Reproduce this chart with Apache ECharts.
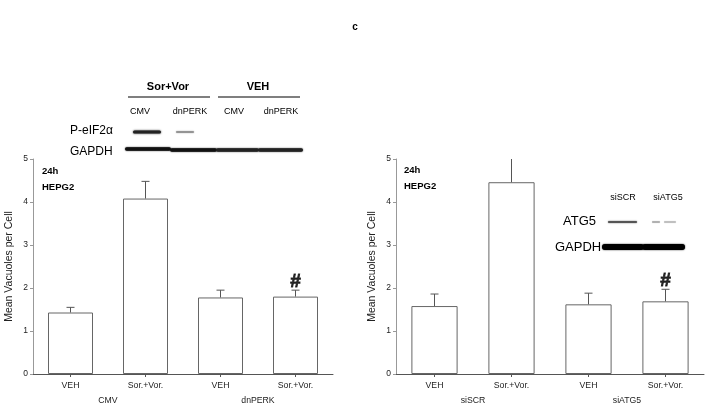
<!DOCTYPE html>
<html><head><meta charset="utf-8">
<script src="https://cdn.jsdelivr.net/npm/echarts@6/dist/echarts.min.js"></script>
<style>html,body{margin:0;padding:0;background:#fff}#c{width:708px;height:406px}</style>
</head><body><div id="c"></div>
<script>
const categories = ['VEH','Sor.+Vor.','VEH','Sor.+Vor.'];
const groupsLeft = ['CMV','dnPERK'];
const groupsRight = ['siSCR','siATG5'];
const leftMeans = [1.43, 4.08, 1.78, 1.80];
const leftErrTop = [1.55, 4.48, 1.95, 1.95];
const rightMeans = [1.58, 4.46, 1.62, 1.69];
const rightErrTop = [1.86, 5.3, 1.88, 1.97];
const yTicks = [0,1,2,3,4,5];
const hashIndex = 3;

const FONT = 'Liberation Sans, Arial, sans-serif';
const AX = '#555';

function yAxisCfg(gi){
  return {type:'value', gridIndex:gi, min:yTicks[0], max:yTicks[yTicks.length-1], interval:1,
    name:'Mean Vacuoles per Cell', nameLocation:'middle', nameGap:18,
    nameTextStyle:{fontFamily:FONT,fontSize:10.5,color:'#222'},
    axisLine:{show:true,lineStyle:{color:'#999',width:1}},
    axisTick:{show:true,length:3,lineStyle:{color:'#999'}},
    axisLabel:{fontFamily:FONT,fontSize:8.5,color:'#222',margin:5},
    splitLine:{show:false}};
}
function xAxisCfg(gi, data){
  return {type:'category', gridIndex:gi, data:data, boundaryGap:true,
    axisLine:{lineStyle:{color:AX,width:1}},
    axisTick:{show:true,alignWithLabel:true,length:3,lineStyle:{color:AX}},
    axisLabel:{fontFamily:FONT,fontSize:8.7,color:'#222',margin:7}};
}
function groupAxisCfg(gi, data){
  return {type:'category', gridIndex:gi, data:data, position:'bottom', offset:15,
    axisLine:{show:false}, axisTick:{show:false},
    axisLabel:{fontFamily:FONT,fontSize:8.7,color:'#222',margin:7}};
}
function errSeries(xi, yi, tops, means){
  return {type:'custom', xAxisIndex:xi, yAxisIndex:yi, z:3,
    data: tops.map((t,i)=>[i, means[i], t]),
    renderItem:function(params, api){
      const i = api.value(0), m = api.value(1), t = api.value(2);
      const ymax = yTicks[yTicks.length-1];
      const top = Math.min(t, ymax);
      const p0 = api.coord([i, m]);
      const p1 = api.coord([i, top]);
      const children = [{type:'line', shape:{x1:p0[0],y1:p0[1],x2:p1[0],y2:p1[1]}, style:{stroke:'#555',lineWidth:1}}];
      if (t <= ymax) children.push({type:'line', shape:{x1:p1[0]-4,y1:p1[1],x2:p1[0]+4,y2:p1[1]}, style:{stroke:'#555',lineWidth:1}});
      return {type:'group', children:children};
    }};
}
function hashSeries(xi, yi, tops){
  return {type:'scatter', xAxisIndex:xi, yAxisIndex:yi, symbolSize:0, z:4,
    data:[[hashIndex, tops[hashIndex]]],
    label:{show:true, formatter:'#', position:'top', distance:-1, fontFamily:FONT, fontWeight:'bold', fontSize:19, color:'#000', textBorderColor:'#000', textBorderWidth:0.8}};
}
function barSeries(xi, yi, vals){
  return {type:'bar', xAxisIndex:xi, yAxisIndex:yi, data:vals, barWidth:'60%',
    itemStyle:{color:'#fff', borderColor:'#666', borderWidth:1}};
}

function txt(x,y,s,size,bold,align){
  return {type:'text', x:x, y:y, style:{text:s, fontFamily:FONT, fontSize:size, fontWeight:bold?'bold':'normal', fill:'#000', align:align||'left', verticalAlign:'middle'}};
}
function band(x,y,w,h,col,blur){
  return {type:'rect', shape:{x:x,y:y-h/2,width:w,height:h,r:h/2}, style:{fill:col, shadowBlur:blur||2, shadowColor:col}};
}

const graphics = [
  txt(355,27,'c',10,true,'center'),
  txt(42,171,'24h',9.5,true), txt(42,187,'HEPG2',9.5,true),
  txt(404,170,'24h',9.5,true), txt(404,186,'HEPG2',9.5,true),
  // left blot
  txt(168,87,'Sor+Vor',11,true,'center'), txt(258,87,'VEH',11,true,'center'),
  {type:'line', shape:{x1:128,y1:97,x2:210,y2:97}, style:{stroke:'#000',lineWidth:1.2}},
  {type:'line', shape:{x1:218,y1:97,x2:300,y2:97}, style:{stroke:'#000',lineWidth:1.2}},
  txt(140,112,'CMV',9,false,'center'), txt(190,112,'dnPERK',9,false,'center'),
  txt(234,112,'CMV',9,false,'center'), txt(281,112,'dnPERK',9,false,'center'),
  txt(70,131,'P-eIF2\u03b1',12,false), txt(70,152,'GAPDH',12,false),
  band(133,132,28,3,'#222',2), band(176,132,18,1.5,'#888',1.5),
  band(125,149,46,3.5,'#111',1.5), band(170,150,47,3.5,'#111',1.5),
  band(216,150,43,3.5,'#222',1.5), band(258,150,45,3.5,'#222',1.5),
  // right blot
  txt(623,198,'siSCR',9,false,'center'), txt(668,198,'siATG5',9,false,'center'),
  txt(563,221,'ATG5',13,false), txt(555,247,'GAPDH',13,false),
  band(608,222,29,2,'#555',1.5), band(652,222,8,1.5,'#aaa',1), band(664,222,12,1.5,'#bbb',1),
  band(602,247,42,6,'#000',1.5), band(642,247,43,6,'#000',1.5)
];

const chart = echarts.init(document.getElementById('c'), null, {renderer:'canvas'});
chart.setOption({
  backgroundColor:'#fff',
  animation:false,
  grid:[{left:33, right:375, top:159, bottom:32},{left:396, right:4, top:159, bottom:32}],
  xAxis:[xAxisCfg(0,categories), xAxisCfg(1,categories), groupAxisCfg(0,groupsLeft), groupAxisCfg(1,groupsRight)],
  yAxis:[yAxisCfg(0), yAxisCfg(1)],
  series:[
    barSeries(0,0,leftMeans), errSeries(0,0,leftErrTop,leftMeans), hashSeries(0,0,leftErrTop),
    barSeries(1,1,rightMeans), errSeries(1,1,rightErrTop,rightMeans), hashSeries(1,1,rightErrTop)
  ],
  graphic: graphics
});
</script></body></html>
